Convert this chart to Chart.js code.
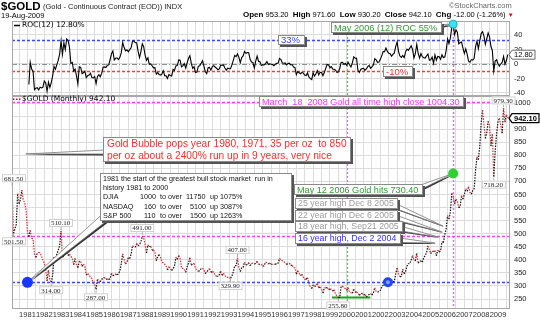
<!DOCTYPE html>
<html>
<head>
<meta charset="utf-8">
<title>$GOLD monthly with ROC(12)</title>
<script src="https://cdn.jsdelivr.net/npm/chart.js@4.4.1/dist/chart.umd.min.js"></script>
<style>
  html, body { margin: 0; padding: 0; background: #fff; }
  #stage { position: relative; width: 540px; height: 322px; overflow: hidden; background: #fff;
           font-family: "Liberation Sans", Arial, sans-serif; color: #000; }
  #stage canvas { position: absolute; left: 0; top: 0; }
  .t { position: absolute; white-space: nowrap; line-height: 1; }
  .t b { font-weight: bold; }
</style>
</head>
<body>
<div id="stage">
  <canvas id="rocChart" width="540" height="322"></canvas>
  <canvas id="priceChart" width="540" height="322"></canvas>
  <div class="t" style="left:1px;top:1px;font-size:11.5px;font-weight:bold;">$GOLD</div>
  <div class="t" style="left:43px;top:3px;font-size:7.5px;color:#222;">(Gold - Continuous Contract (EOD)) INDX</div>
  <div class="t" style="left:1px;top:12px;font-size:7.5px;">19-Aug-2009</div>
  <div class="t" style="left:449px;top:2px;font-size:7.5px;color:#666;">&copy;StockCharts.com</div>
  <div class="t" id="quote" style="left:243px;top:11px;font-size:7.5px;"></div>
</div>
<script>
// ---- daily quote shown in the header ----
const quoteOpen = 953.20, quoteHigh = 971.60, quoteLow = 930.20, quoteClose = 942.10;
const quoteChg = -12.00, quoteChgPct = -1.26;

// ---- monthly closes, $GOLD continuous contract ----
const firstYear = 1980, firstMonth = 2;   // series begins February 1980
const gold1980s = [
  681.5, 501.5, 518, 535, 653, 614, 631, 666.8, 629, 619, 589.8,          // 1980 Feb-Dec
  506, 489, 513, 482, 480, 422, 409, 425, 428, 427, 414, 400,             // 1981
  387, 362, 320, 361, 325, 314, 342, 411, 397, 423, 436, 456,             // 1982
  510.1, 410, 414, 432, 437, 416, 422, 414, 405, 382, 405, 382,           // 1983
  370, 394, 394, 375, 384, 375, 342, 347, 343, 333, 329, 309,             // 1984
  306, 287, 326, 320, 316, 326, 327, 333, 326, 326, 325, 327,             // 1985
  349, 338, 344, 345, 343, 346, 357, 385, 423, 401, 384, 391,             // 1986
  408, 405, 421, 453, 451, 448, 462, 453, 460, 468, 491, 484,             // 1987
  458, 426, 457, 451, 451, 437, 437, 430, 396, 412, 420, 410,             // 1988
  394, 387, 383, 377, 361, 373, 368, 359, 366, 376, 409, 401              // 1989
];
const gold1990s = [
  416, 407, 368, 367, 363, 352, 373, 387, 408, 379, 384, 386,             // 1990
  367, 362, 356, 358, 366, 368, 362, 347, 354, 359, 366, 353,             // 1991
  354, 353, 341, 337, 337, 343, 357, 340, 349, 339, 334, 333,             // 1992
  331, 329.9, 337, 354, 377, 378, 407, 371, 355, 369, 371, 391,           // 1993
  380, 382, 389, 377, 387, 386, 384, 386, 394, 383, 383, 383,             // 1994
  376, 377, 391, 389, 384, 387, 383, 383, 384, 382, 387, 387,             // 1995
  405, 400, 396, 393, 390, 382, 385, 387, 379, 379, 371, 369,             // 1996
  345, 358, 348, 340, 345, 334, 326, 325, 332, 311, 296, 290,             // 1997
  304, 298, 301, 309, 293, 296, 288, 273, 293, 292, 294, 287,             // 1998
  288, 287, 280, 286, 268, 262, 255.8, 256, 299, 299, 292, 290            // 1999
];
const gold2000s = [
  283, 293, 277, 274, 272, 288, 276, 277, 273, 264, 270, 272,             // 2000
  266, 267, 258, 264, 267, 271, 265, 273, 293, 279, 276, 279,             // 2001
  283, 297, 302, 309, 326, 318, 304, 312, 324, 316, 318, 347,             // 2002
  369, 347, 335, 337, 364, 346, 355, 376, 385, 385, 398, 417,             // 2003
  400, 396, 426, 387, 394, 396, 391, 408, 416, 428, 453, 438,             // 2004
  423, 434, 430, 436, 415, 437, 430, 434, 469, 466, 496, 518,             // 2005
  569, 556, 583, 655, 643, 614, 632, 624, 599, 604, 646, 632,             // 2006
  651, 672, 662, 680, 658, 651, 665, 673, 743, 794, 783, 834,             // 2007
  924, 972, 916, 865, 887, 930, 912, 835.2, 880, 718.2, 815, 882,         // 2008
  927, 942, 916, 884, 979.3, 927, 955, 942.1                              // 2009 Jan-Aug
];

// ---- axis labels ----
const yearLabels = ['1981','1982','1983','1984','1985','1986','1987','1988','1989','1990',
  '1991','1992','1993','1994','1995','1996','1997','1998','1999','2000',
  '2001','2002','2003','2004','2005','2006','2007','2008','2009'];
const priceTickLabels = [250, 300, 350, 400, 450, 500, 550, 600, 650, 700, 750, 800, 850, 900, 950, 1000];
const rocTickLabels = [-40, -20, 0, 20, 40];

// ---- horizontal guide levels ----
const rocGuides = [33, 0, -10];
const priceGuides = [1004.30, 491.00, 314.00];
const lowLine = 255.80;

// value tags: [year, month, placed below the point?]
const priceTags = [
  [1980, 2, false], [1980, 3, true], [1982, 6, true], [1983, 1, false], [1985, 2, true],
  [1987, 11, false], [1993, 2, true], [1993, 7, false], [1999, 7, true], [2008, 10, true], [2009, 5, false]
];

// ---- derived series ----
const closes = gold1980s.concat(gold1990s, gold2000s);
const monthPos = i => firstYear + (firstMonth - 1 + i) / 12;
const idxOf = (y, m) => (y - firstYear) * 12 + (m - firstMonth);
const pricePts = closes.map((c, i) => ({ x: monthPos(i), y: c }));
const rocPts = [];
for (let i = 12; i < closes.length; i++) {
  rocPts.push({ x: monthPos(i), y: (closes[i] / closes[i - 12] - 1) * 100 });
}
const lastRoc = rocPts[rocPts.length - 1].y;
const lastClose = closes[closes.length - 1];
const MAY_2006 = 2006 + 4 / 12;
const rocMay2006 = (closes[idxOf(2006, 5)] / closes[idxOf(2005, 5)] - 1) * 100;

document.getElementById('quote').innerHTML =
  '<b style="font-size:8px">Open</b> ' + quoteOpen.toFixed(2) +
  ' &nbsp;<b style="font-size:8px">High</b> ' + quoteHigh.toFixed(2) +
  ' &nbsp;<b style="font-size:8px">Low</b> ' + quoteLow.toFixed(2) +
  ' &nbsp;<b style="font-size:8px">Close</b> ' + quoteClose.toFixed(2) +
  ' &nbsp;<b style="font-size:8px">Chg</b> ' + quoteChg.toFixed(2) + ' (' + quoteChgPct.toFixed(2) + '%)' +
  ' <span style="color:#e00;font-size:6px">&#9660;</span>';

// ---- shared x axis ----
const X_MIN = 1980.08, X_MAX = 2009.716;
const gridYears = [];
for (let v = 1980.5; v <= 2009.5; v += 0.5) gridYears.push(v);

const SANS = '"Liberation Sans", Arial, sans-serif';
const VERD = '"DejaVu Sans", Verdana, sans-serif';

function xAxis(showLabels) {
  return {
    type: 'linear', min: X_MIN, max: X_MAX,
    afterBuildTicks: s => { s.ticks = gridYears.map(v => ({ value: v })); },
    ticks: {
      display: showLabels, autoSkip: false, maxRotation: 0, minRotation: 0, padding: 2,
      font: { family: SANS, size: 7.5 }, color: '#333',
      callback: v => (yearLabels.includes(String(v)) ? String(v) : '')
    },
    grid: { color: '#dcdcdc', lineWidth: 1, drawTicks: false },
    border: { display: false },
    afterFit: s => { s.height = showLabels ? 14 : 0; }
  };
}
function yAxis(min, max, gridVals, labelVals) {
  return {
    position: 'right', min, max,
    afterBuildTicks: s => { s.ticks = gridVals.map(v => ({ value: v })); },
    ticks: {
      padding: 4, font: { family: SANS, size: 7.5 }, color: '#222',
      callback: v => (labelVals.includes(v) ? String(v) : '')
    },
    grid: { color: '#dcdcdc', lineWidth: 1, drawTicks: false },
    border: { display: false },
    afterFit: s => { s.width = 30; }
  };
}

// ---- canvas helpers ----
function hLine(ctx, y, x0, x1, color, dash, w) {
  ctx.save(); ctx.strokeStyle = color; ctx.setLineDash(dash); ctx.lineWidth = w;
  ctx.beginPath(); ctx.moveTo(x0, Math.round(y) + 0.5); ctx.lineTo(x1, Math.round(y) + 0.5); ctx.stroke();
  ctx.restore();
}
function vLine(ctx, x, y0, y1, color, dash, w) {
  ctx.save(); ctx.strokeStyle = color; ctx.setLineDash(dash); ctx.lineWidth = w;
  ctx.beginPath(); ctx.moveTo(Math.round(x) + 0.5, y0); ctx.lineTo(Math.round(x) + 0.5, y1); ctx.stroke();
  ctx.restore();
}
function dot(ctx, x, y, r, fill, stroke) {
  ctx.save(); ctx.setLineDash([]);
  ctx.beginPath(); ctx.arc(x, y, r, 0, Math.PI * 2); ctx.fillStyle = fill; ctx.fill();
  if (stroke) { ctx.strokeStyle = stroke; ctx.lineWidth = 1; ctx.stroke(); }
  ctx.restore();
}
function tri(ctx, pts) {
  ctx.beginPath(); ctx.moveTo(pts[0], pts[1]); ctx.lineTo(pts[2], pts[3]); ctx.lineTo(pts[4], pts[5]); ctx.closePath();
}
// callout: box with drop shadow, optional wedge tail to a pixel target
function note(ctx, n, target) {
  ctx.save(); ctx.setLineDash([]);
  ctx.font = n.size + 'px ' + SANS;
  let w = 0;
  n.lines.forEach(l => { w = Math.max(w, l[0] + ctx.measureText(l[2]).width); });
  w = n.box[2] || Math.ceil(w + 4);
  const [bx, by, , bh] = n.box;
  if (target) {
    const [fx, fy] = n.from, [tx, ty] = target;
    const dx = tx - fx, dy = ty - fy, L = Math.hypot(dx, dy) || 1;
    const nx = -dy / L * n.tail / 2, ny = dx / L * n.tail / 2;
    ctx.fillStyle = '#333';
    tri(ctx, [fx + nx + 1.5, fy + ny + 1.5, fx - nx + 1.5, fy - ny + 1.5, tx + 1, ty + 1]); ctx.fill();
    ctx.fillStyle = '#fff'; ctx.strokeStyle = '#777'; ctx.lineWidth = 0.8;
    tri(ctx, [fx + nx, fy + ny, fx - nx, fy - ny, tx, ty]); ctx.fill(); ctx.stroke();
  }
  ctx.fillStyle = '#555'; ctx.fillRect(bx + 2, by + 2, w, bh);
  ctx.fillStyle = '#fff'; ctx.fillRect(bx, by, w, bh);
  ctx.strokeStyle = '#8a8a8a'; ctx.lineWidth = 1; ctx.strokeRect(bx + 0.5, by + 0.5, w - 1, bh - 1);
  ctx.fillStyle = n.color; ctx.textAlign = 'left'; ctx.textBaseline = 'middle';
  n.lines.forEach(l => ctx.fillText(l[2], bx + l[0], by + l[1] + 0.5));
  ctx.restore();
}
function valueTag(ctx, px, py, text, below) {
  ctx.save(); ctx.setLineDash([]);
  ctx.font = '7px "Liberation Serif", serif';
  const w = Math.ceil(ctx.measureText(text).width + 4), h = 8;
  const bx = Math.max(2, px - w / 2);
  const by = below ? py + 4 : py - 4 - h;
  ctx.strokeStyle = '#999'; ctx.lineWidth = 0.8;
  ctx.beginPath(); ctx.moveTo(px, below ? py + 1 : py - 1); ctx.lineTo(px, below ? by : by + h); ctx.stroke();
  ctx.fillStyle = '#fff'; ctx.fillRect(bx, by, w, h);
  ctx.strokeStyle = '#c4c4c4'; ctx.strokeRect(bx + 0.5, by + 0.5, w - 1, h - 1);
  ctx.fillStyle = '#222'; ctx.textAlign = 'left'; ctx.textBaseline = 'middle';
  ctx.fillText(text, bx + 2, by + h / 2 + 0.5);
  ctx.restore();
}
function axisTag(ctx, y, text, bold) {
  ctx.save(); ctx.setLineDash([]);
  ctx.font = (bold ? 'bold ' : '') + '7.5px ' + SANS;
  const w = Math.ceil(ctx.measureText(text).width + 4), h = 9, x = 512;
  ctx.beginPath();
  ctx.moveTo(x - 3, y); ctx.lineTo(x, y - h / 2); ctx.lineTo(x + w, y - h / 2);
  ctx.lineTo(x + w, y + h / 2); ctx.lineTo(x, y + h / 2); ctx.closePath();
  ctx.fillStyle = '#fff'; ctx.fill();
  ctx.strokeStyle = bold ? '#000' : '#444'; ctx.lineWidth = bold ? 1.2 : 0.8; ctx.stroke();
  ctx.fillStyle = '#000'; ctx.textAlign = 'left'; ctx.textBaseline = 'middle';
  ctx.fillText(text, x + 2, y + 0.5);
  ctx.restore();
}
function panelBorder(ctx, a) {
  ctx.save(); ctx.setLineDash([]); ctx.strokeStyle = '#a8a8a8'; ctx.lineWidth = 1;
  ctx.strokeRect(Math.round(a.left) + 0.5, Math.round(a.top) + 0.5,
                 Math.round(a.right - a.left) - 1, Math.round(a.bottom - a.top));
  ctx.restore();
}

// ---- callouts (layout in pixels, targets in chart values) ----
const rocNotes = [
  { lines: [[3, 5, '33%']], color: '#3343ff', size: 9.5, box: [278, 35, 0, 10] },
  { lines: [[3, 5.5, '-10%']], color: '#ff3030', size: 9.5, box: [383, 66, 0, 11] },
  { lines: [[3, 5.5, 'May 2006 (12) ROC 55%']], color: '#2f9a2f', size: 9.2, box: [331, 22, 0, 11],
    from: [428, 27], tail: 4, to: [MAY_2006, rocMay2006] }
];
const priceNotes = [
  { lines: [[4, 6.5, 'Gold Bubble pops year 1980, 1971, 35 per oz  to 850'],
            [4, 19, 'per oz about a 2400% run up in 9 years, very nice']],
    color: '#ff2b2b', size: 10.2, box: [103, 137, 0, 25], from: [105, 152], tail: 4, to: [1980.9, 805] },
  { lines: [[3, 5.5, '1981 the start of the greatest bull stock market  run in'],
            [3, 14.5, 'history 1981 to 2000'],
            [3, 24, 'DJIA'], [40, 24, '1000'], [60, 24, 'to over'], [86, 24, '11750'], [110, 24, 'up 1075%'],
            [3, 33.5, 'NASDAQ'], [44, 33.5, '160'], [60, 33.5, 'to over'], [90, 33.5, '5100'], [110, 33.5, 'up 3087%'],
            [3, 43, 'S&P 500'], [44, 43, '110'], [60, 43, 'to over'], [90, 43, '1500'], [110, 43, 'up 1263%']],
    color: '#111', size: 7.2, box: [100, 173, 192, 48], from: [104, 218], tail: 8, to: [1981.0, 314] },
  { lines: [[3, 5.5, 'May 12 2006 Gold hits 730.40']], color: '#2f9a2f', size: 9.1, box: [294, 184, 0, 11],
    from: [414, 190], tail: 5, to: [MAY_2006, 730.4] },
  { lines: [[3, 5.5, '25 year high Dec 8 2005']], color: '#9c9c9c', size: 8.8, box: [295, 198, 0, 11],
    from: [393, 205], tail: 5, to: [2005.73, 529] },
  { lines: [[3, 5.5, '22 year high Dec 6 2005']], color: '#9c9c9c', size: 8.8, box: [295, 210, 0, 11],
    from: [394, 217], tail: 5, to: [2005.68, 506] },
  { lines: [[3, 5.5, '18 year high, Sep21 2005']], color: '#9c9c9c', size: 8.8, box: [295, 221, 0, 11],
    from: [398, 228], tail: 5, to: [2005.44, 487] },
  { lines: [[3, 5.5, '16 year high, Dec 2 2004']], color: '#3030ff', size: 8.8, box: [295, 233, 0, 11],
    from: [396, 240], tail: 5, to: [2005.26, 464] },
  { lines: [[3, 5.5, 'March  18  2008 Gold all time high close 1004.30']], color: '#ff30ff', size: 9.1,
    box: [259, 96, 0, 11] }
];

// ---- ROC panel ----
const rocDecor = {
  id: 'rocDecor',
  beforeDatasetsDraw(chart) {
    const { ctx, chartArea: a, scales: { x, y } } = chart;
    ctx.save();
    ctx.beginPath(); ctx.rect(a.left, a.top, a.right - a.left, a.bottom - a.top); ctx.clip();
    vLine(ctx, x.getPixelForValue(2000), a.top, a.bottom, '#5fb85f', [2, 2], 1.2);
    vLine(ctx, x.getPixelForValue(MAY_2006), a.top, a.bottom, '#c27ae2', [2, 2], 1.5);
    hLine(ctx, y.getPixelForValue(rocGuides[0]), a.left, a.right, '#3b46ff', [3, 2], 1.5);
    hLine(ctx, y.getPixelForValue(rocGuides[1]), a.left, a.right, '#8c8c8c', [5, 2, 1, 2], 1);
    hLine(ctx, y.getPixelForValue(rocGuides[2]), a.left, a.right, '#ff3a3a', [3, 2], 1.5);
    ctx.restore();
  },
  afterDraw(chart) {
    const { ctx, chartArea: a, scales: { x, y } } = chart;
    panelBorder(ctx, a);
    rocNotes.forEach(n => note(ctx, n, n.to ? [x.getPixelForValue(n.to[0]), y.getPixelForValue(n.to[1])] : null));
    dot(ctx, x.getPixelForValue(MAY_2006), y.getPixelForValue(rocMay2006), 4, '#38e6f2', '#1aa8c0');
    // legend
    ctx.save();
    ctx.strokeStyle = '#000'; ctx.lineWidth = 1.5;
    ctx.beginPath(); ctx.moveTo(14, 25.5); ctx.lineTo(20, 25.5); ctx.stroke();
    ctx.font = '7.5px ' + VERD; ctx.fillStyle = '#000'; ctx.textBaseline = 'middle';
    ctx.fillText('ROC(12) ' + lastRoc.toFixed(2) + '%', 22, 25.5);
    ctx.restore();
    axisTag(ctx, y.getPixelForValue(lastRoc), lastRoc.toFixed(2), false);
  }
};

new Chart(document.getElementById('rocChart'), {
  type: 'line',
  data: { datasets: [{ data: rocPts, borderColor: '#000', borderWidth: 1.1, pointRadius: 0, tension: 0 }] },
  options: {
    responsive: false, animation: false, events: [],
    layout: { padding: { top: 21, left: 12, right: 0, bottom: 227 } },
    plugins: { legend: { display: false }, tooltip: { enabled: false } },
    scales: {
      x: xAxis(false),
      y: yAxis(-42.8, 59.3, [-40, -30, -20, -10, 0, 10, 20, 30, 40, 50], rocTickLabels)
    }
  },
  plugins: [rocDecor]
});

// ---- price panel ----
const priceDecor = {
  id: 'priceDecor',
  beforeDatasetsDraw(chart) {
    const { ctx, chartArea: a, scales: { x, y } } = chart;
    ctx.save();
    ctx.beginPath(); ctx.rect(a.left, a.top, a.right - a.left, a.bottom - a.top); ctx.clip();
    const x2000 = x.getPixelForValue(2000);
    vLine(ctx, x2000, a.top, y.getPixelForValue(480), '#c27ae2', [2, 2], 1.2);
    vLine(ctx, x2000, y.getPixelForValue(480), a.bottom, '#5fb85f', [2, 2], 1.2);
    vLine(ctx, x.getPixelForValue(MAY_2006), a.top, a.bottom, '#c27ae2', [2, 2], 1.5);
    hLine(ctx, y.getPixelForValue(priceGuides[0]), a.left, a.right - 4, '#ff3cff', [3, 2], 1.3);
    hLine(ctx, y.getPixelForValue(priceGuides[1]), a.left, a.right, '#ff3cff', [3, 2], 1.3);
    hLine(ctx, y.getPixelForValue(priceGuides[2]), a.left, a.right, '#3b46ff', [3, 2], 1.6);
    hLine(ctx, y.getPixelForValue(lowLine), x.getPixelForValue(1999.12), x.getPixelForValue(2001.4), '#1f9f1f', [], 2.2);
    ctx.restore();
  },
  afterDraw(chart) {
    const { ctx, chartArea: a, scales: { x, y } } = chart;
    panelBorder(ctx, a);
    const P = (v0, v1) => [x.getPixelForValue(v0), y.getPixelForValue(v1)];
    priceNotes.forEach(n => note(ctx, n, n.to ? P(n.to[0], n.to[1]) : null));
    // markers
    const b1 = P(1981.0, priceGuides[2]);
    dot(ctx, b1[0], b1[1], 5.5, '#1638ff');
    const b2 = P(2002.45, priceGuides[2]);
    dot(ctx, b2[0], b2[1], 5, '#2147ef');
    dot(ctx, b2[0], b2[1], 2, '#7f9cff');
    const g = P(MAY_2006, 730.4);
    dot(ctx, g[0], g[1], 5, '#2fd02f');
    // value tags read from the series
    priceTags.forEach(([yr, mo, below]) => {
      const i = idxOf(yr, mo);
      const p = P(monthPos(i), closes[i]);
      valueTag(ctx, p[0], p[1], closes[i].toFixed(2), below);
    });
    // legend
    ctx.save();
    ctx.fillStyle = '#b01030';
    [13, 16, 19].forEach(px => ctx.fillRect(px, 98.5, 1.5, 1.5));
    ctx.font = '7.5px ' + VERD; ctx.fillStyle = '#000'; ctx.textBaseline = 'middle';
    ctx.fillText('$GOLD (Monthly) ' + lastClose.toFixed(2), 22, 99.5);
    ctx.restore();
    axisTag(ctx, y.getPixelForValue(lastClose), lastClose.toFixed(2), true);
  }
};

new Chart(document.getElementById('priceChart'), {
  type: 'line',
  data: { datasets: [{
    data: pricePts, borderWidth: 1.2, borderDash: [1.5, 1.2], pointRadius: 0, tension: 0,
    borderColor: '#111',
    segment: { borderColor: c => (c.p1.parsed.y < c.p0.parsed.y ? '#e8262b' : '#111') }
  }] },
  options: {
    responsive: false, animation: false, events: [],
    layout: { padding: { top: 96, left: 12, right: 0, bottom: 0 } },
    plugins: { legend: { display: false }, tooltip: { enabled: false } },
    scales: {
      x: xAxis(true),
      y: yAxis(215.6, 1026.8, priceTickLabels, priceTickLabels)
    }
  },
  plugins: [priceDecor]
});
</script>
</body>
</html>
